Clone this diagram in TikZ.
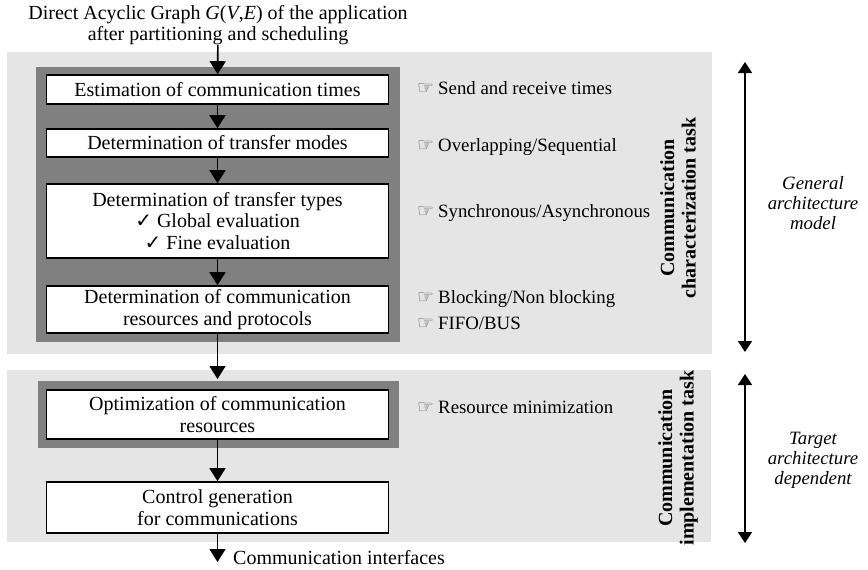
\documentclass[tikz,border=0pt]{standalone}
\usepackage{fontspec}
\setmainfont{Liberation Serif}
\newfontfamily\symfont{DejaVu Sans}
\usetikzlibrary{arrows.meta}

\definecolor{lightpanel}{gray}{0.9}
\definecolor{darkpanel}{gray}{0.5}

\newcommand{\basesize}{\fontsize{20}{21.5}\selectfont}
\newcommand{\notesize}{\fontsize{18.8}{20}\selectfont}
\tikzset{
  stepbox/.style={draw, line width=1.6pt, fill=white, minimum width=342pt,
    align=center, inner sep=0pt},
  flow/.style={-{Triangle[width=16pt,length=13pt]}, line width=1.6pt},
  span/.style={{Triangle[width=14pt,length=11pt]}-{Triangle[width=14pt,length=11pt]}, line width=1.6pt},
  hint/.style={anchor=west, inner sep=0pt, font=\notesize},
  taskname/.style={rotate=90, font=\basesize\bfseries, align=center, inner sep=0pt},
  archnote/.style={font=\notesize\itshape, align=center, inner sep=0pt},
}
\newcommand{\hand}{{\symfont\fontsize{19}{19}\selectfont\color{black!65}☞}\hspace{4pt}}
\newcommand{\tick}{{\symfont ✓}}

\begin{document}
\begin{tikzpicture}[x=1pt, y=-1pt, font=\basesize]
  \useasboundingbox (0,0) rectangle (868,570);

  % panels
  \fill [lightpanel] (7,52) rectangle (712,354);
  \fill [lightpanel] (7,370) rectangle (711,542);
  \fill [darkpanel] (36,67) rectangle (400,342);
  \fill [darkpanel] (38,381) rectangle (399,448);

  % input graph
  \node [align=center, inner sep=0pt] (dag) at (218,25)
    {Direct Acyclic Graph \textit{G}(\textit{V},\textit{E}) of the application\\
     after partitioning and scheduling};

  % characterization steps
  \node [stepbox, minimum height=29pt] (estim) at (217.5,89.5)
    {Estimation of communication times};
  \node [stepbox, minimum height=28pt] (modes) at (217.5,143)
    {Determination of transfer modes};
  \node [stepbox, minimum height=74pt] (types) at (217.5,221)
    {Determination of transfer types\\ \tick\ Global evaluation\\ \tick\ Fine evaluation};
  \node [stepbox, minimum height=47pt] (resrc) at (217.5,309.5)
    {Determination of communication\\resources and protocols};

  % implementation steps
  \node [stepbox, minimum height=49pt] (optim) at (217.5,414.5)
    {Optimization of communication\\resources};
  \node [stepbox, minimum height=51pt] (ctrl) at (217.5,507.5)
    {Control generation\\for communications};

  \coordinate (implin) at (217.5,379);
  \coordinate (out) at (217.5,562);
  \node [anchor=west, inner sep=0pt] (ifaces) at (233,558) {Communication interfaces};

  \draw [flow] (dag) -- (estim);
  \draw [flow] (estim) -- (modes);
  \draw [flow] (modes) -- (types);
  \draw [flow] (types) -- (resrc);
  \draw [flow] (resrc) -- (implin);
  \draw [flow] (optim) -- (ctrl);
  \draw [flow] (ctrl) -- (out);

  % side notes
  \node [hint] (n1) at (417,88) {\hand Send and receive times};
  \node [hint] (n2) at (417,147) {\hand Overlapping/Sequential};
  \node [hint] (n3) at (417,213) {\hand Synchronous/Asynchronous};
  \node [hint] (n4) at (417,299) {\hand Blocking/Non blocking};
  \node [hint] (n5) at (417,323) {\hand FIFO/BUS};
  \node [hint] (n6) at (417,407) {\hand Resource minimization};

  % task names
  \node [taskname] (chartask) at (678,208) {Communication\\characterization task};
  \node [taskname] (impltask) at (678,458) {Communication\\implementation task};

  % architecture ranges
  \coordinate (gtop) at (745,62);
  \coordinate (gbot) at (745,352);
  \coordinate (ttop) at (745,374);
  \coordinate (tbot) at (745,543);
  \draw [span] (gtop) -- (gbot);
  \draw [span] (ttop) -- (tbot);
  \node [archnote] (genarch) at (813,203) {General\\architecture\\model};
  \node [archnote] (tgtarch) at (813,460) {Target\\architecture\\dependent};
\end{tikzpicture}
\end{document}
